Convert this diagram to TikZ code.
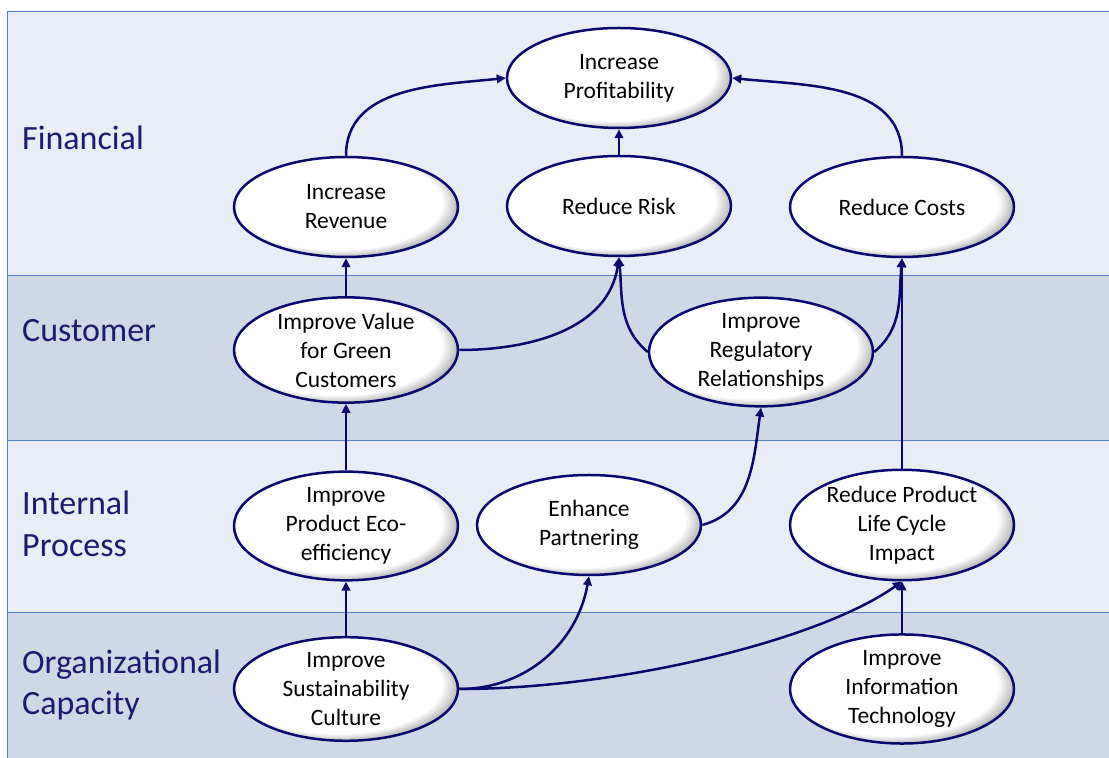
\documentclass[tikz,border=0pt]{standalone}
\usepackage{fontspec}
\setmainfont{Carlito}
\usetikzlibrary{shapes.geometric,arrows.meta}
\definecolor{bandlight}{RGB}{233,237,245}
\definecolor{banddark}{RGB}{208,216,232}
\definecolor{bandline}{RGB}{84,130,196}
\definecolor{navy}{RGB}{8,8,110}
\definecolor{labelblue}{RGB}{26,28,112}
\pgfdeclareradialshading{ellshade}{\pgfpoint{-4bp}{4bp}}{color(0bp)=(white); color(23.5bp)=(white); color(27bp)=(black!28); color(30bp)=(black!55); color(50bp)=(black!55)}
\tikzset{
  goal/.style={ellipse, draw=navy, line width=2.5bp, shading=ellshade,
    minimum width=224bp, minimum height=100bp, inner sep=0pt, align=center,
    font=\fontsize{23.5bp}{29bp}\selectfont, text=black},
  band/.style={draw=bandline, line width=1bp},
  perspective/.style={anchor=west, inner sep=0pt, align=left, text=labelblue,
    font=\fontsize{34bp}{41.5bp}\selectfont},
  link/.style={draw=navy, line width=2.5bp, -{Triangle[length=9bp,width=8.5bp]}}
}
\begin{document}
\begin{tikzpicture}[x=1bp,y=1bp]
\useasboundingbox (0,0) rectangle (1109,758);
\fill[white] (0,0) rectangle (1109,758);
% bands
\fill[bandlight] (7,482) rectangle (1109,746);
\fill[banddark] (7,317) rectangle (1109,482);
\fill[bandlight] (7,145) rectangle (1109,317);
\fill[banddark] (7,0) rectangle (1109,145);
\draw[band] (1109,746) -- (7,746) -- (7,0);
\draw[band] (7,482) -- (1109,482);
\draw[band] (7,317) -- (1109,317);
\draw[band] (7,145) -- (1109,145);
% perspective labels
\node[perspective] (lfin) at (22,620) {Financial};
\node[perspective] (lcus) at (22,427) {Customer};
\node[perspective] (lint) at (22,234) {Internal\\Process};
\node[perspective] (lorg) at (22,73) {Organizational\\Capacity};
% goals
\node[goal] (prof) at (619,680) {Increase\\Profitability};
\node[goal] (rev) at (346,551) {Increase\\Revenue};
\node[goal] (risk) at (619,552) {Reduce Risk};
\node[goal] (costs) at (902,551) {Reduce Costs};
\node[goal] (value) at (346,408) {Improve Value\\for Green\\Customers};
\node[goal] (reg) at (761,406) {Improve\\Regulatory\\Relationships};
\node[goal] (eco) at (346,232) {Improve\\Product Eco-\\efficiency};
\node[goal] (part) at (589,233) {Enhance\\Partnering};
\node[goal] (lci) at (902,233) {Reduce Product\\Life Cycle\\Impact};
\node[goal] (sust) at (346,69) {Improve\\Sustainability\\Culture};
\node[goal] (it) at (902,69) {Improve\\Information\\Technology};
% links
\draw[link] (rev.north) to[out=90,in=186] (prof.west);
\draw[link] (costs.north) to[out=90,in=-6] (prof.east);
\draw[link] (risk.north) -- (prof.south);
\draw[link] (value.north) -- (rev.south);
\draw[link] (value.east) to[out=0,in=262] (risk.south);
\draw[link] (reg.west) to[out=140,in=275] (risk.south);
\draw[link] (reg.east) to[out=40,in=265] (costs.south);
\draw[link] (lci.north) -- (costs.south);
\draw[link] (eco.north) -- (value.south);
\draw[link] (sust.north) -- (eco.south);
\draw[link] (part.east) to[out=15,in=262] (reg.south);
\draw[link] (sust.east) to[out=0,in=260] (part.south);
\draw[link] (sust.east) .. controls (620,69) and (820,118) .. (lci.south);
\draw[link] (it.north) -- (lci.south);
\end{tikzpicture}
\end{document}
